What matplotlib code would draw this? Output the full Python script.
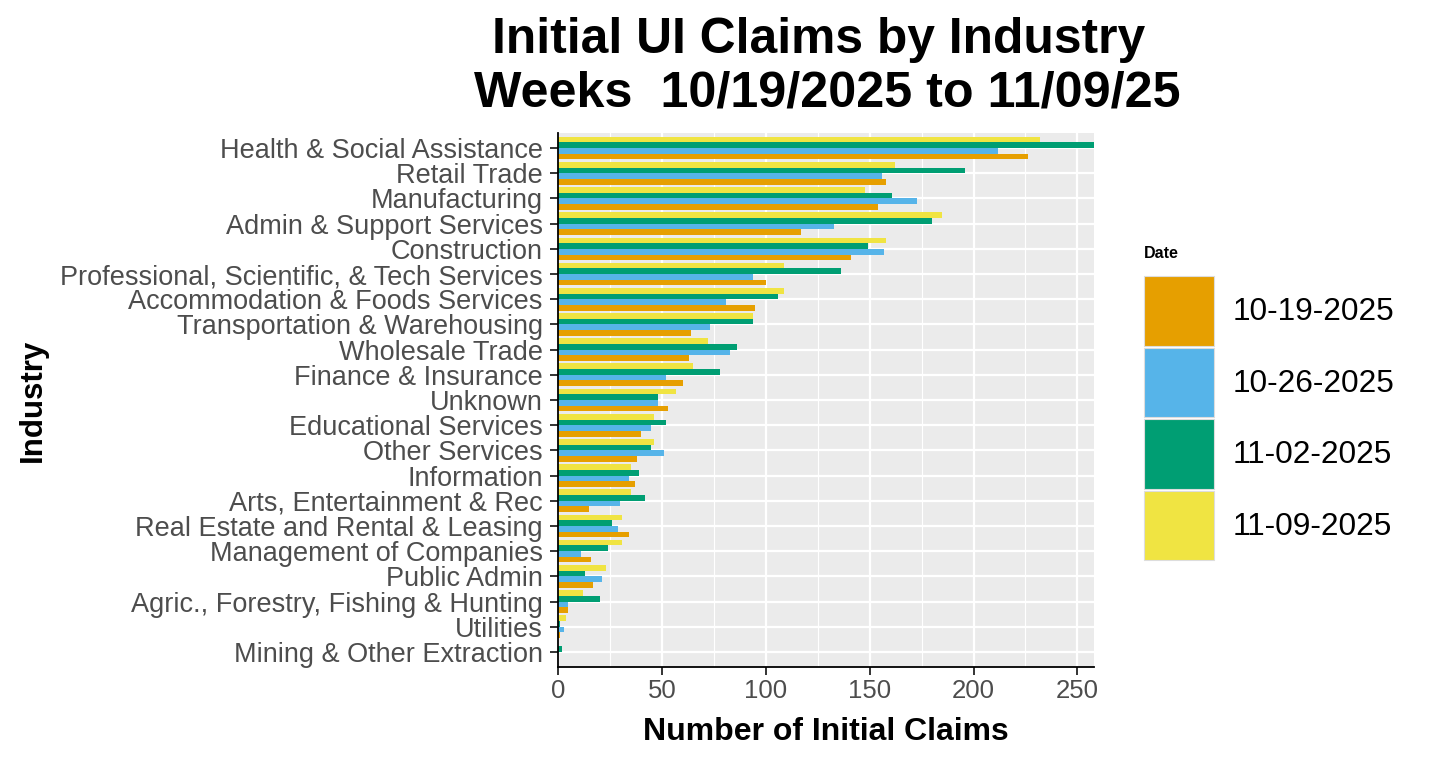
import numpy as np
import matplotlib
matplotlib.use("Agg")
import matplotlib.pyplot as plt
from matplotlib.patches import Patch

plt.rcParams['font.family'] = ['Liberation Sans', 'DejaVu Sans']

# industries listed top to bottom as in the chart
industries = [
    "Health & Social Assistance",
    "Retail Trade",
    "Manufacturing",
    "Admin & Support Services",
    "Construction",
    "Professional, Scientific, & Tech Services",
    "Accommodation & Foods Services",
    "Transportation & Warehousing",
    "Wholesale Trade",
    "Finance & Insurance",
    "Unknown",
    "Educational Services",
    "Other Services",
    "Information",
    "Arts, Entertainment & Rec",
    "Real Estate and Rental & Leasing",
    "Management of Companies",
    "Public Admin",
    "Agric., Forestry, Fishing & Hunting",
    "Utilities",
    "Mining & Other Extraction",
]

dates = ["10-19-2025", "10-26-2025", "11-02-2025", "11-09-2025"]

claims_1019 = [226, 158, 154, 117, 141, 100, 95, 64, 63, 60, 53, 40, 38, 37, 15, 34, 16, 17, 5, 1, 0]
claims_1026 = [212, 156, 173, 133, 157, 94, 81, 73, 83, 52, 48, 45, 51, 34, 30, 29, 11, 21, 5, 3, 0]
claims_1102 = [258, 196, 161, 180, 149, 136, 106, 94, 86, 78, 48, 52, 45, 39, 42, 26, 24, 13, 20, 1, 2]
claims_1109 = [232, 162, 148, 185, 158, 109, 109, 94, 72, 65, 57, 46, 46, 35, 35, 31, 31, 23, 12, 4, 0]

series = [claims_1019, claims_1026, claims_1102, claims_1109]
colors = ["#E69F00", "#56B4E9", "#009E73", "#F0E442"]

W, H, DPI = 1431, 766, 100
fig = plt.figure(figsize=(W / DPI, H / DPI), dpi=DPI)

# panel in pixel coordinates
left, right, top, bottom = 558, 1094, 133, 667
ax = fig.add_axes([left / W, 1 - bottom / H, (right - left) / W, (bottom - top) / H])
ax.set_facecolor("#EBEBEB")

n = len(industries)
ypos = np.arange(n)[::-1]  # first industry at the top
bar_h = 0.9 / 4
for k, (vals, col) in enumerate(zip(series, colors)):
    offset = -0.45 + bar_h * (k + 0.5)
    ax.barh(ypos + offset, vals, height=bar_h, color=col, edgecolor='none', zorder=2)

xmax = max(max(s) for s in series)
ax.set_xlim(0, xmax)
ax.set_ylim(-0.6, n - 1 + 0.6)

ax.set_xticks([0, 50, 100, 150, 200, 250])
ax.set_xticks([25, 75, 125, 175, 225], minor=True)
ax.set_yticks(ypos)
ax.set_yticklabels(industries)

ax.grid(which='major', axis='both', color='white', linewidth=1.6, zorder=1)
ax.grid(which='minor', axis='x', color='white', linewidth=0.8, zorder=1)
ax.set_axisbelow(True)

for s in ['top', 'right']:
    ax.spines[s].set_visible(False)
for s in ['left', 'bottom']:
    ax.spines[s].set_color('black')
    ax.spines[s].set_linewidth(1.3)

ax.tick_params(axis='y', which='major', length=5.5, width=1.4, color='#333333',
               labelsize=19.5, labelcolor='#4D4D4D', pad=5.5)
ax.tick_params(axis='x', which='major', length=5.5, width=1.4, color='#333333',
               labelsize=18.5, labelcolor='#4D4D4D', pad=3)
ax.tick_params(axis='x', which='minor', length=0)

ax.set_xlabel("Number of Initial Claims", fontsize=23, fontweight='bold')
ax.xaxis.label.set_va('center')
ax.xaxis.set_label_coords(0.5, (bottom - 732) / (bottom - top))

ax.set_ylabel("Industry", fontsize=22.5, fontweight='bold')
ax.yaxis.label.set_va('center')
ax.yaxis.set_label_coords((33 - left) / (right - left), 0.5)

# title, two centred lines
fig.text(818.5 / W, 1 - 53 / H, "Initial UI Claims by Industry",
         ha='center', va='baseline', fontsize=35.8, fontweight='bold')
fig.text(827 / W, 1 - 107 / H, "Weeks  10/19/2025 to 11/09/25",
         ha='center', va='baseline', fontsize=36.2, fontweight='bold')

# legend: title drawn on its own, keys below
fig.text(1144 / W, 1 - 258 / H, "Date", ha='left', va='baseline',
         fontsize=11.5, fontweight='bold')
handles = [Patch(facecolor=c, edgecolor='#DDDDDD', linewidth=0.8) for c in colors]
leg = fig.legend(handles, dates, loc='upper left',
                 bbox_to_anchor=(1144 / W, 1 - 276 / H),
                 frameon=False, fontsize=22.8,
                 handlelength=2.2, handleheight=3.02,
                 labelspacing=0.05, handletextpad=0.6, borderpad=0,
                 borderaxespad=0)

fig.savefig("out.png", dpi=DPI, facecolor='white')
